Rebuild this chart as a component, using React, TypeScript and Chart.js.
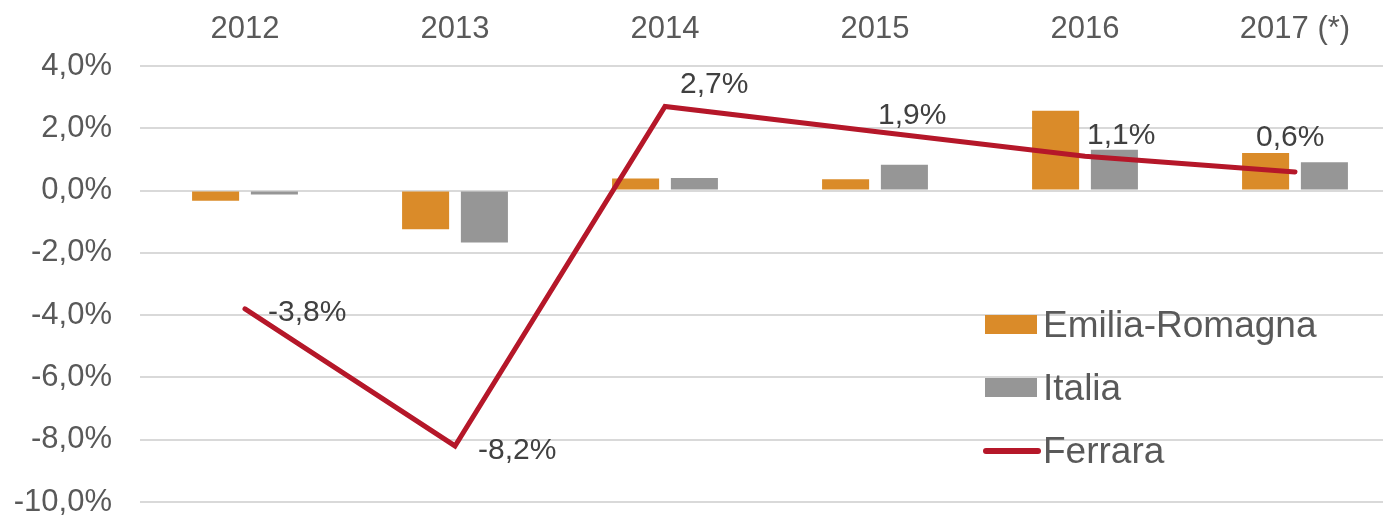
import React, { useEffect, useRef } from "react";
import { Chart, registerables } from "chart.js";

Chart.register(...registerables);

const categories = ["2012", "2013", "2014", "2015", "2016", "2017 (*)"];
const emiliaRomagna = [-0.33, -1.24, 0.39, 0.36, 2.56, 1.21];
const italia = [-0.13, -1.67, 0.4, 0.83, 1.31, 0.91];
const ferrara = [-3.8, -8.2, 2.7, 1.9, 1.1, 0.6];
const yMin = -10;
const yMax = 4;
const yStep = 2;

const FONT = '"Liberation Sans", Arial, sans-serif';
const TEXT = "#595959";

const fmt = (v: number) => v.toFixed(1).replace(".", ",") + "%";

// label placement offsets relative to each Ferrara point (left edge, cap-center)
const labelOffsets = [
  [23, 1],
  [23, 2],
  [15, -24],
  [3, -18],
  [2, -23],
  [-39, -37],
];

const lineLabelsPlugin = {
  id: "lineLabels",
  afterDatasetsDraw(chart: any) {
    const ctx = chart.ctx;
    const dsIndex = chart.data.datasets.findIndex((d: any) => d.type === "line");
    if (dsIndex < 0) return;
    const meta = chart.getDatasetMeta(dsIndex);
    const data = chart.data.datasets[dsIndex].data as number[];
    ctx.save();
    ctx.font = `30px ${FONT}`;
    ctx.fillStyle = "#404040";
    ctx.textAlign = "left";
    ctx.textBaseline = "alphabetic";
    meta.data.forEach((pt: any, i: number) => {
      const [dx, dy] = labelOffsets[i] || [0, -20];
      ctx.fillText(fmt(data[i]), pt.x + dx, pt.y + dy + 10.7);
    });
    ctx.restore();
  },
};

const legendPlugin = {
  id: "customLegend",
  afterDraw(chart: any) {
    const ctx = chart.ctx;
    const ds = chart.data.datasets;
    const order = [0, 1, 2];
    const x0 = 985;
    const y0 = 324;
    const gap = 63;
    ctx.save();
    ctx.font = `37px ${FONT}`;
    ctx.textBaseline = "alphabetic";
    ctx.textAlign = "left";
    order.forEach((di, k) => {
      const d = ds[di];
      const cy = y0 + k * gap;
      if (d.type === "line") {
        ctx.strokeStyle = d.borderColor;
        ctx.lineWidth = 6;
        ctx.lineCap = "round";
        ctx.beginPath();
        ctx.moveTo(x0 + 1, cy + 1);
        ctx.lineTo(x0 + 53, cy + 1);
        ctx.stroke();
      } else {
        ctx.fillStyle = d.backgroundColor;
        ctx.fillRect(x0, cy - 9, 52, 19);
      }
      ctx.fillStyle = TEXT;
      ctx.fillText(d.label, x0 + 58, cy + 13.2);
    });
    ctx.restore();
  },
};

export default function App() {
  const ref = useRef<HTMLCanvasElement | null>(null);

  useEffect(() => {
    if (!ref.current) return;
    const chart = new Chart(ref.current, {
      type: "bar",
      data: {
        labels: categories,
        datasets: [
          {
            type: "bar",
            label: "Emilia-Romagna",
            data: emiliaRomagna,
            backgroundColor: "#DA8B29",
            barPercentage: 0.8,
            categoryPercentage: 0.56,
            order: 1,
          },
          {
            type: "bar",
            label: "Italia",
            data: italia,
            backgroundColor: "#969696",
            barPercentage: 0.8,
            categoryPercentage: 0.56,
            order: 1,
          },
          {
            type: "line",
            label: "Ferrara",
            data: ferrara,
            borderColor: "#B51729",
            backgroundColor: "#B51729",
            borderWidth: 5,
            pointRadius: 0,
            tension: 0,
            borderCapStyle: "round",
            borderJoinStyle: "miter",
            order: 0,
          } as any,
        ],
      },
      options: {
        responsive: false,
        animation: false,
        layout: { padding: { top: 0, bottom: 13, left: 0, right: 0 } },
        plugins: {
          legend: { display: false },
          tooltip: { enabled: false },
        },
        scales: {
          x: {
            position: "top",
            offset: true,
            grid: { display: false, drawTicks: false },
            border: { display: false },
            ticks: {
              color: TEXT,
              font: { family: FONT, size: 31 },
              padding: 18,
              maxRotation: 0,
            },
            afterFit(scale: any) {
              scale.height = 66;
            },
          },
          y: {
            min: yMin,
            max: yMax,
            ticks: {
              stepSize: yStep,
              color: TEXT,
              font: { family: FONT, size: 31 },
              padding: 28,
              callback: (v: any) => fmt(Number(v)),
            },
            grid: { color: "#D9D9D9", lineWidth: 2, drawTicks: false },
            border: { display: false },
            afterFit(scale: any) {
              scale.width = 140;
              scale.paddingTop = 0;
              scale.paddingBottom = 0;
            },
          },
        },
      },
      plugins: [lineLabelsPlugin, legendPlugin],
    });
    return () => chart.destroy();
  }, []);

  return (
    <div style={{ position: "fixed", left: 0, top: 0, width: 1383, height: 515, overflow: "hidden", background: "#fff" }}>
      <canvas ref={ref} width={1400} height={515} style={{ width: 1400, height: 515, display: "block" }} />
    </div>
  );
}
